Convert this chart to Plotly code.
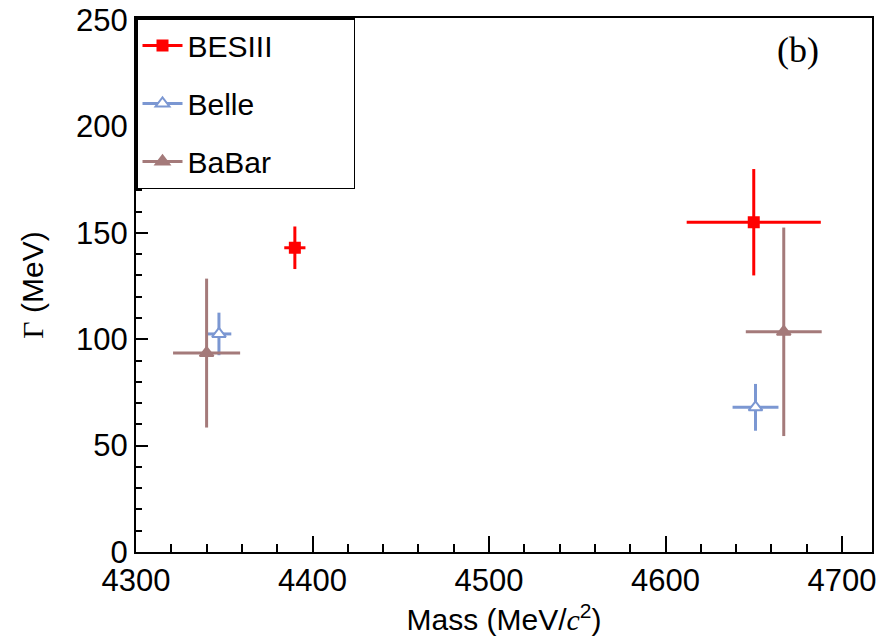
import plotly.graph_objects as go

# ---- data ----
bes_mass = [4390, 4650]
bes_mass_err = [6, 38]
bes_width = [143, 155]
bes_width_err = [10, 25]

belle_mass = [4347, 4651]
belle_mass_err = [7, 13]
belle_width = [102.5, 68]
belle_width_err = [10, 11]

babar_mass = [4340, 4667]
babar_mass_err = [19, 21.5]
babar_width = [93.5, 103.5]
babar_width_err = [35, 49]

RED = "#ff0000"
BLUE = "#7b97d2"
BROWN = "#a47a7a"
FONT = "Liberation Sans"
PAD = "\u00a0" * 9  # widens the legend box to match the reference

fig = go.Figure()

def add_series(name, x, xe, y, ye, color, symbol, fill, group, size, legend_name):
    fig.add_trace(go.Scatter(
        x=x, y=y, mode="markers", name=name, showlegend=False,
        error_x=dict(type="data", array=xe, color=color, thickness=3, width=0),
        error_y=dict(type="data", array=ye, color=color, thickness=3, width=0),
        marker=dict(symbol=symbol, size=size, color=fill,
                    line=dict(color=color, width=2)),
        legendgroup=group,
    ))
    # legend-only entry (line + marker)
    fig.add_trace(go.Scatter(
        x=[None], y=[None], mode="lines+markers", name=legend_name,
        line=dict(color=color, width=3),
        marker=dict(symbol=symbol, size=size, color=fill,
                    line=dict(color=color, width=2)),
        legendgroup=group,
    ))

add_series("BESIII", bes_mass, bes_mass_err, bes_width, bes_width_err,
           RED, "square", RED, "g1", 10, "BESIII" + PAD)
add_series("Belle", belle_mass, belle_mass_err, belle_width, belle_width_err,
           BLUE, "triangle-up", "white", "g2", 12, "Belle")
add_series("BaBar", babar_mass, babar_mass_err, babar_width, babar_width_err,
           BROWN, "triangle-up", BROWN, "g3", 12, "BaBar")

fig.update_layout(
    width=879, height=642,
    margin=dict(l=136, r=3, t=18, b=90),
    paper_bgcolor="white", plot_bgcolor="white",
    font=dict(family=FONT, size=30, color="black"),
    showlegend=True,
    legend=dict(
        x=0, y=1, xanchor="left", yanchor="top",
        bgcolor="white", bordercolor="black", borderwidth=1.5,
        font=dict(family=FONT, size=30, color="black"),
        tracegroupgap=16, itemwidth=40,
    ),
    xaxis=dict(
        range=[4300, 4717], tickvals=[4300, 4400, 4500, 4600, 4700],
        ticks="inside", ticklen=16, tickwidth=1.5, tickcolor="black",
        minor=dict(dtick=20, ticks="inside", ticklen=8, tickwidth=1.5, tickcolor="black"),
        showline=True, linecolor="black", linewidth=2, mirror=True,
        showgrid=False, zeroline=False,
        tickfont=dict(family=FONT, size=31),
        title=dict(text="Mass (MeV/<i><span style='font-family:Liberation Serif'>c</span></i><sup>2</sup>)",
                   font=dict(family=FONT, size=30), standoff=12),
    ),
    yaxis=dict(
        range=[0, 251], tickvals=[0, 50, 100, 150, 200, 250],
        ticks="inside", ticklen=12, tickwidth=1.5, tickcolor="black",
        minor=dict(dtick=10, ticks="inside", ticklen=6, tickwidth=1.5, tickcolor="black"),
        showline=True, linecolor="black", linewidth=2, mirror=True,
        showgrid=False, zeroline=False,
        tickfont=dict(family=FONT, size=31),
        title=dict(text="<span style='font-family:Liberation Serif'>Γ</span> (MeV)",
                   font=dict(family=FONT, size=30), standoff=24),
    ),
    annotations=[dict(
        text="(b)", xref="paper", yref="paper", x=0.90, y=0.94,
        xanchor="center", yanchor="middle", showarrow=False,
        font=dict(family="Liberation Serif", size=36, color="black"),
    )],
)

fig.write_html("out.html")
